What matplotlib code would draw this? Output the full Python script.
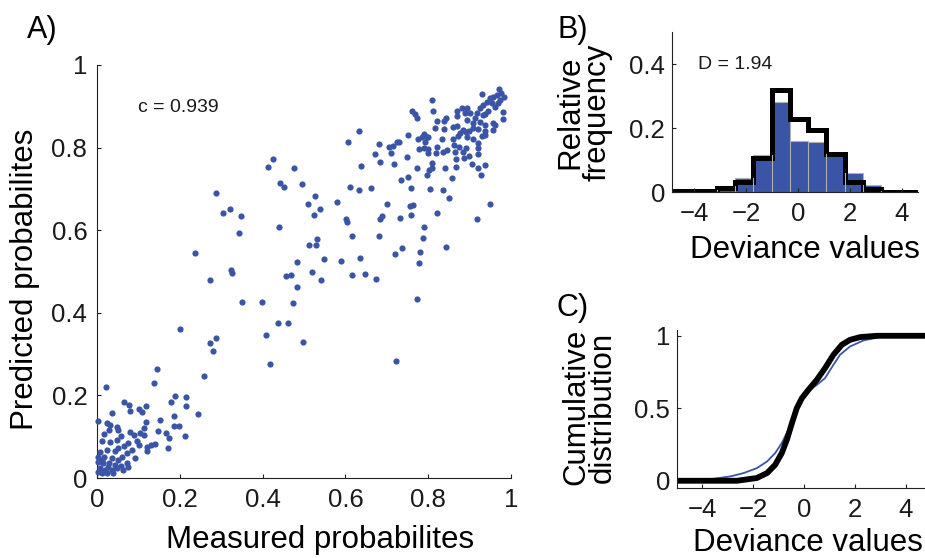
import numpy as np
import matplotlib
matplotlib.use("Agg")
import matplotlib.pyplot as plt

plt.rcParams['font.family'] = ['Liberation Sans', 'DejaVu Sans']

BLUE = '#3a55a5'

# ---- panel A: measured vs predicted probabilities ----
measured = [
    0.971, 0.976, 0.965, 0.983, 0.957, 0.949, 0.929, 0.941, 0.953, 0.969,
    0.961, 0.932, 0.925, 0.945, 0.981, 0.981, 0.933, 0.917, 0.937, 0.973,
    0.810, 0.760, 0.768, 0.774, 0.812, 0.821, 0.838, 0.843, 0.870, 0.882,
    0.893, 0.889, 0.901, 0.870, 0.893, 0.912, 0.909, 0.925, 0.937, 0.957,
    0.961, 0.956, 0.937, 0.921, 0.909, 0.899, 0.891, 0.885, 0.877, 0.869,
    0.859, 0.838, 0.816, 0.790, 0.784, 0.796, 0.775, 0.793, 0.800, 0.833,
    0.861, 0.873, 0.893, 0.909, 0.929, 0.937, 0.921, 0.921, 0.921, 0.891,
    0.885, 0.874, 0.865, 0.862, 0.846, 0.836, 0.821, 0.818, 0.800, 0.790,
    0.778, 0.799, 0.866, 0.887, 0.899, 0.905, 0.920, 0.938, 0.927, 0.858,
    0.841, 0.866, 0.808, 0.810, 0.803, 0.797, 0.774, 0.752, 0.734, 0.758,
    0.804, 0.836, 0.850, 0.949, 0.919, 0.822, 0.759, 0.756, 0.763, 0.732,
    0.791, 0.787, 0.844, 0.781, 0.777, 0.736, 0.719, 0.772, 0.750, 0.729,
    0.724, 0.714, 0.705, 0.709, 0.681, 0.671, 0.684, 0.718, 0.749, 0.638,
    0.634, 0.607, 0.610, 0.632, 0.662, 0.700, 0.689, 0.684, 0.601, 0.603,
    0.580, 0.527, 0.510, 0.538, 0.523, 0.531, 0.528, 0.513, 0.549, 0.589,
    0.615, 0.680, 0.635, 0.615, 0.648, 0.675, 0.519, 0.540, 0.496,
    0.425, 0.413, 0.476, 0.442, 0.452, 0.287, 0.321, 0.304, 0.348, 0.343,
    0.440, 0.483, 0.237, 0.324, 0.326, 0.273, 0.457, 0.469, 0.483, 0.350,
    0.399, 0.473, 0.200, 0.437, 0.461, 0.408, 0.498, 0.287, 0.273, 0.280,
    0.418, 0.258, 0.215, 0.145, 0.722,
    0.022, 0.138, 0.188, 0.179, 0.215, 0.065, 0.077, 0.118, 0.080, 0.036,
    0.101, 0.109, 0.244, 0.186, 0.002, 0.152, 0.118, 0.024, 0.031, 0.186,
    0.198, 0.048, 0.051, 0.080, 0.114, 0.104, 0.147, 0.167, 0.213, 0.029,
    0.017, 0.174, 0.058, 0.114, 0.089, 0.048, 0.031, 0.012, 0.075, 0.097,
    0.065, 0.101, 0.130, 0.140, 0.121, 0.121, 0.171, 0.051, 0.085, 0.043,
    0.024, 0.007, 0.072, 0.092, 0.060, 0.051, 0.036, 0.017, 0.002, 0.002,
    0.014, 0.029, 0.043, 0.072, 0.058, 0.007, 0.019, 0.002, 0.036, 0.063,
    0.048, 0.075, 0.027, 0.012, 0.024, 0.039, 0.012,
]
predicted = [
    0.941, 0.933, 0.927, 0.923, 0.923, 0.919, 0.929, 0.911, 0.907, 0.907,
    0.898, 0.903, 0.895, 0.889, 0.887, 0.869, 0.879, 0.883, 0.881, 0.915,
    0.915, 0.889, 0.881, 0.872, 0.889, 0.864, 0.865, 0.871, 0.889, 0.897,
    0.897, 0.883, 0.883, 0.877, 0.868, 0.871, 0.859, 0.863, 0.855, 0.860,
    0.855, 0.843, 0.839, 0.845, 0.848, 0.839, 0.837, 0.843, 0.835, 0.852,
    0.851, 0.844, 0.847, 0.832, 0.826, 0.826, 0.820, 0.814, 0.825, 0.821,
    0.820, 0.828, 0.825, 0.820, 0.828, 0.831, 0.812, 0.798, 0.784, 0.798,
    0.790, 0.802, 0.790, 0.806, 0.794, 0.790, 0.802, 0.786, 0.797, 0.800,
    0.796, 0.788, 0.772, 0.775, 0.780, 0.760, 0.750, 0.758, 0.734, 0.726,
    0.750, 0.753, 0.762, 0.750, 0.746, 0.734, 0.751, 0.730, 0.722, 0.703,
    0.699, 0.697, 0.679, 0.664, 0.626, 0.642, 0.638, 0.659, 0.660, 0.630,
    0.608, 0.580, 0.559, 0.548, 0.521, 0.557, 0.542, 0.434, 0.830, 0.814,
    0.813, 0.804, 0.802, 0.788, 0.809, 0.785, 0.764, 0.760, 0.778, 0.755,
    0.841, 0.814, 0.704, 0.698, 0.702, 0.664, 0.635, 0.626, 0.628, 0.620,
    0.669, 0.683, 0.663, 0.651, 0.637, 0.579, 0.564, 0.564, 0.530, 0.525,
    0.586, 0.587, 0.533, 0.492, 0.494, 0.482, 0.498, 0.479, 0.712,
    0.772, 0.753, 0.751, 0.714, 0.705, 0.690, 0.651, 0.642, 0.634, 0.593,
    0.608, 0.523, 0.545, 0.504, 0.496, 0.479, 0.489, 0.492, 0.462, 0.426,
    0.426, 0.424, 0.361, 0.375, 0.375, 0.346, 0.329, 0.339, 0.327, 0.308,
    0.276, 0.247, 0.196, 0.264, 0.283,
    0.220, 0.230, 0.199, 0.184, 0.174, 0.184, 0.177, 0.174, 0.162, 0.157,
    0.167, 0.160, 0.155, 0.150, 0.138, 0.140, 0.136, 0.133, 0.128, 0.126,
    0.126, 0.123, 0.116, 0.111, 0.121, 0.109, 0.114, 0.109, 0.102, 0.116,
    0.107, 0.097, 0.102, 0.104, 0.104, 0.092, 0.087, 0.090, 0.085, 0.090,
    0.077, 0.080, 0.080, 0.082, 0.075, 0.065, 0.073, 0.073, 0.068, 0.065,
    0.068, 0.063, 0.061, 0.048, 0.051, 0.044, 0.048, 0.051, 0.051, 0.039,
    0.036, 0.036, 0.031, 0.036, 0.029, 0.024, 0.019, 0.015, 0.019, 0.019,
    0.024, 0.027, 0.027, 0.012, 0.012, 0.012, 0.044,
]
c_text = 'c = 0.939'

# ---- panel B: deviance histogram ----
bin_edges = [-5.25, -4.54, -3.83, -3.13, -2.42, -1.72, -1.01, -0.31,
             0.40, 1.10, 1.81, 2.51, 3.22, 3.92, 4.63]
freq_measured = [0.0, 0.0, 0.005, 0.020, 0.045, 0.117, 0.280, 0.160,
                 0.157, 0.118, 0.060, 0.023, 0.004, 0.0]
freq_model = [0.002, 0.002, 0.002, 0.012, 0.030, 0.105, 0.320, 0.228,
              0.195, 0.118, 0.030, 0.008, 0.0, 0.0]
d_text = 'D = 1.94'

# ---- panel C: cumulative distributions ----
cdf_blue_x = [-5.0, -4.2, -3.56, -2.90, -2.38, -1.86, -1.46, -1.14, -0.88,
              -0.62, -0.42, -0.22, -0.03, 0.24, 0.50, 0.82, 1.15, 1.41,
              1.80, 2.33, 2.98, 3.64, 4.8]
cdf_blue_y = [0.0, 0.004, 0.014, 0.030, 0.053, 0.087, 0.133, 0.191, 0.260,
              0.352, 0.444, 0.536, 0.593, 0.628, 0.662, 0.708, 0.800, 0.869,
              0.926, 0.968, 0.991, 1.0, 1.0]
cdf_black_x = [-5.0, -2.64, -1.86, -1.46, -1.14, -0.88, -0.68, -0.48, -0.29,
               -0.09, 0.17, 0.50, 0.82, 1.15, 1.48, 1.80, 2.20, 2.85, 4.8]
cdf_black_y = [0.0, 0.0, 0.019, 0.053, 0.110, 0.191, 0.283, 0.398, 0.501,
               0.570, 0.628, 0.697, 0.777, 0.869, 0.938, 0.972, 0.991, 1.0,
               1.0]

W, H = 925, 558
fig = plt.figure(figsize=(W / 100, H / 100), dpi=100)


def box(l, t, r, b):
    return [l / W, 1 - b / H, (r - l) / W, (b - t) / H]


def style(ax, fs, pad):
    for s in ('top', 'right'):
        ax.spines[s].set_visible(False)
    for s in ('left', 'bottom'):
        ax.spines[s].set_linewidth(0.8)
        ax.spines[s].set_color('#222222')
    ax.tick_params(direction='in', length=3, width=0.8, labelsize=fs,
                   pad=pad, colors='#222222', labelcolor='#1a1a1a')


# A
axA = fig.add_axes(box(97, 65, 511, 478))
axA.scatter(measured, predicted, s=20, color=BLUE, linewidths=0, clip_on=False, zorder=3)
axA.set_xlim(0, 1)
axA.set_ylim(0, 1)
ticks = [0, 0.2, 0.4, 0.6, 0.8, 1]
labs = ['0', '0.2', '0.4', '0.6', '0.8', '1']
axA.set_xticks(ticks, labs)
axA.set_yticks(ticks, labs)
style(axA, 18.5, 7)
axA.set_xlabel('Measured probabilites', fontsize=22.5)
axA.xaxis.set_label_coords(0.54, -0.15)
axA.xaxis.label.set_va('center')
axA.set_ylabel('Predicted probabilites', fontsize=22.5)
axA.yaxis.set_label_coords(-0.174, 0.48)
axA.yaxis.label.set_va('center')
axA.text(0.099, 0.898, c_text, fontsize=14, va='center', ha='left', color='#1a1a1a')
fig.text(27 / W, 1 - 30 / H, 'A)', fontsize=22, va='center', ha='left')

# B
axB = fig.add_axes(box(672, 32, 918, 192))
axB.stairs(freq_measured, bin_edges, fill=True, facecolor=BLUE, edgecolor='none')
axB.stairs(freq_measured, bin_edges, fill=False, color='#b0b0b0', linewidth=0.8, baseline=0)
for e, h in zip(bin_edges[1:-1], np.minimum(freq_measured[:-1], freq_measured[1:])):
    axB.plot([e, e], [0, h], color='#b0b0b0', lw=0.8)
axB.stairs(freq_model, bin_edges, color='black', linewidth=3.6, baseline=None)
axB.set_xlim(-4.85, 4.63)
axB.set_ylim(0, 0.5)
axB.set_xticks([-4, -2, 0, 2, 4])
axB.set_yticks([0, 0.2, 0.4], ['0', '0.2', '0.4'])
style(axB, 18.5, 5)
axB.tick_params(axis='x', pad=7)
axB.set_xlabel('Deviance values', fontsize=22.5)
axB.xaxis.set_label_coords(0.54, -0.363)
axB.xaxis.label.set_va('center')
axB.set_ylabel('Relative\nfrequency', fontsize=22.5, linespacing=0.85)
axB.yaxis.set_label_coords(-0.358, 0.5)
axB.yaxis.label.set_va('center')
axB.text(-3.85, 0.397, d_text, fontsize=14, va='center', ha='left', color='#1a1a1a')
fig.text(557 / W, 1 - 30 / H, 'B)', fontsize=22, va='center', ha='left')

# C
axC = fig.add_axes(box(677, 330, 925, 488))
axC.plot(cdf_blue_x, cdf_blue_y, color=BLUE, lw=1.3)
axC.plot(cdf_black_x, cdf_black_y, color='black', lw=4.2, solid_capstyle='butt')
axC.set_xlim(-5, 4.75)
axC.set_ylim(-0.05, 1.04)
axC.set_xticks([-4, -2, 0, 2, 4])
axC.set_yticks([0, 0.5, 1], ['0', '0.5', '1'])
style(axC, 18.5, 5)
axC.tick_params(axis='x', pad=7)
axC.set_xlabel('Deviance values', fontsize=22.5)
axC.xaxis.set_label_coords(0.528, -0.345)
axC.xaxis.label.set_va('center')
axC.set_ylabel('Cumulative\ndistribution', fontsize=22.5, linespacing=0.85)
axC.yaxis.set_label_coords(-0.351, 0.513)
axC.yaxis.label.set_va('center')
fig.text(557 / W, 1 - 308 / H, 'C)', fontsize=22, va='center', ha='left')

fig.savefig('out.png', dpi=100)
